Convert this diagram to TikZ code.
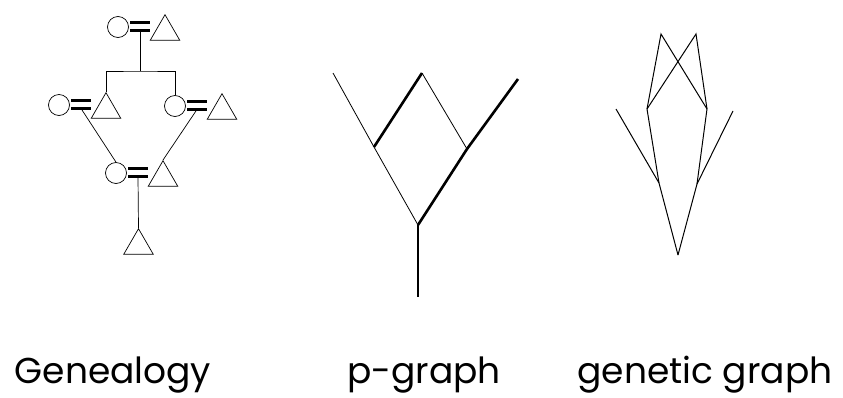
\documentclass[tikz,border=0pt]{standalone}
\usepackage{fontspec}
\newfontfamily\captfont{Poppins}
\usetikzlibrary{shapes.geometric, calc}

\begin{document}
\begin{tikzpicture}[
  x = 1pt, y = -1pt,
  %
  % ── Node styles ─────────────────────────────────────────────────
  fem/.style      = {draw, circle, minimum size=21pt, inner sep=0pt,
                     line width=0.7pt},
  mal/.style      = {draw, regular polygon, regular polygon sides=3,
                     minimum size=34pt, inner sep=0pt, anchor=corner 1,
                     line width=0.7pt},
  eqsign/.style   = {minimum width=19pt, minimum height=7.5pt, inner sep=0pt},
  bar/.style      = {line width=2.2pt},
  kin/.style      = {line width=0.7pt},
  pthin/.style    = {line width=0.8pt},
  pthick/.style   = {line width=2.6pt},
  gen/.style      = {line width=1pt, line join=miter},
  gcaption/.style = {anchor=base, inner sep=0pt,
                     font=\captfont\fontsize{36}{36}\selectfont},
]

\useasboundingbox (0,0) rectangle (843,397);

%% ═══════════════════════════════════════════════════════════════════
%% LEFT — Genealogy
%% ═══════════════════════════════════════════════════════════════════

% Parents
\node[fem]    (top-f)  at (118,27)   {};
\node[eqsign] (top-eq) at (140,26.5) {};
\node[mal]    (top-m)  at (165,14)   {};

% Children (two couples)
\node[fem]    (ml-f)  at (59,105)    {};
\node[eqsign] (ml-eq) at (81,104.5)  {};
\node[mal]    (ml-m)  at (106,92)    {};

\node[fem]    (mr-f)  at (175,106)   {};
\node[eqsign] (mr-eq) at (197,105.5) {};
\node[mal]    (mr-m)  at (222,93)    {};

% Cousin marriage
\node[fem]    (bot-f)  at (116,173)   {};
\node[eqsign] (bot-eq) at (138,172.5) {};
\node[mal]    (bot-m)  at (163,160)   {};

% Offspring
\node[mal] (kid) at (138.5,228) {};

%% ── Marriage bars ───────────────────────────────────────────────
\foreach \c in {top, ml, mr, bot}
  \draw[bar] (\c-eq.north west) -- (\c-eq.north east)
             (\c-eq.south west) -- (\c-eq.south east);

%% ── Descent lines ───────────────────────────────────────────────
\coordinate (sibs) at (140,71);
\draw[kin] (top-eq.south) -- (sibs);
\draw[kin] (ml-m.corner 1) |- (sibs) -| (mr-f.north);
\draw[kin] (ml-eq.south) -- (bot-f.north);
\draw[kin] (mr-eq.south) -- (bot-m.corner 1);
\draw[kin] (bot-eq.south) -- (kid.corner 1);

\node[gcaption] (gen-cap) at (113,383) {Genealogy};

%% ═══════════════════════════════════════════════════════════════════
%% MIDDLE — p-graph
%% ═══════════════════════════════════════════════════════════════════

\coordinate (pl-end) at (333,73);
\coordinate (pl)     at (374,147);
\coordinate (ptop)   at (422,73);
\coordinate (pr)     at (467,149);
\coordinate (pr-end) at (518,79);
\coordinate (pbot)   at (418,225);
\coordinate (proot)  at (418,297);

\draw[pthin]  (pl-end) -- (pl) -- (pbot);
\draw[pthin]  (ptop) -- (pr);
\draw[pthick] (pl) -- (ptop);
\draw[pthick] (pbot) -- (pr) -- (pr-end);
\draw[pthick] (pbot) -- (proot);

\node[gcaption] (p-cap) at (424,383) {p-graph};

%% ═══════════════════════════════════════════════════════════════════
%% RIGHT — genetic graph
%% ═══════════════════════════════════════════════════════════════════

\coordinate (g-tl) at (661,34);
\coordinate (g-tr) at (696,34);
\coordinate (g-ml) at (647,109);
\coordinate (g-mr) at (707,109);
\coordinate (g-fl) at (616,109);
\coordinate (g-fr) at (733,111);
\coordinate (g-ll) at (659,183);
\coordinate (g-lr) at (697,184);
\coordinate (g-b)  at (678,255);

\draw[gen] (g-ml) -- (g-tl) -- (g-mr);
\draw[gen] (g-ml) -- (g-tr) -- (g-mr);
\draw[gen] (g-ml) -- (g-ll) -- (g-b);
\draw[gen] (g-mr) -- (g-lr) -- (g-b);
\draw[gen] (g-fl) -- (g-ll);
\draw[gen] (g-fr) -- (g-lr);

\node[gcaption] (g-cap) at (705,383) {genetic graph};

\end{tikzpicture}
\end{document}
